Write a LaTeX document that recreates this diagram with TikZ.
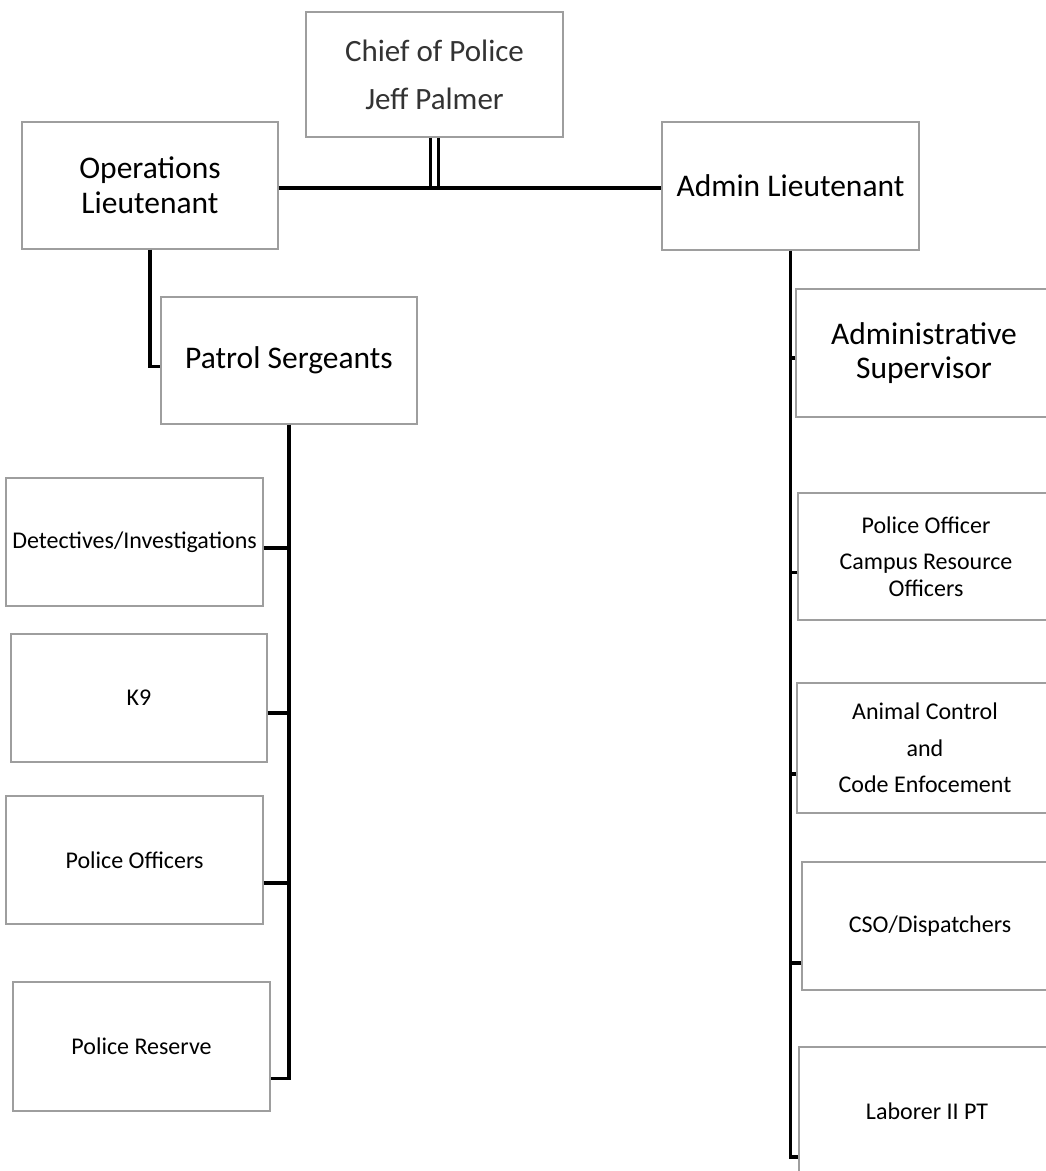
\documentclass[tikz,border=0pt]{standalone}
\usepackage{fontspec}
\setmainfont{Carlito}
\definecolor{boxgray}{RGB}{158,158,158}
\begin{document}
\begin{tikzpicture}[x=1pt,y=-1pt,
  box/.style={draw=boxgray, line width=1.3pt, minimum width=256pt, minimum height=128pt, inner sep=0pt, align=center, text=black},
  big/.style={font=\fontsize{31.5}{35}\selectfont},
  small/.style={font=\fontsize{24}{26.6}\selectfont},
  link/.style={line width=3.2pt, black, line join=miter}]
\useasboundingbox (0,0) rectangle (1046,1171);
\clip (0,0) rectangle (1046,1171);
\fill[white] (0,0) rectangle (1046,1171);

% top level
\node[box, minimum width=257pt, minimum height=125pt, font=\fontsize{31}{48}\selectfont, text=black!80] (chief) at (434.5,74.5) {Chief of Police\\Jeff Palmer};
\node[box, big, minimum height=127pt] (op) at (150,185.5) {Operations\\Lieutenant};
\node[box, big, minimum width=257pt] (admin) at (790.5,186) {Admin Lieutenant};
\node[box, big, minimum height=127pt] (ps) at (289,360.5) {Patrol Sergeants};

% left column
\node[box, small, minimum width=257pt] (det) at (134.5,542) {Detectives/Investigations};
\node[box, small] (k9) at (139,698) {K9};
\node[box, small, minimum width=257pt] (po) at (134.5,860) {Police Officers};
\node[box, small, minimum width=257pt, minimum height=129pt] (res) at (141.5,1046.5) {Police Reserve};

% right column
\node[box, font=\fontsize{31.5}{34}\selectfont] (sup) at (924,353) {Administrative\\Supervisor};
\node[box, small, minimum height=127pt] (cro) at (926,556.5) {Police Officer\\[10pt]Campus Resource\\Officers};
\node[box, font=\fontsize{24}{36.7}\selectfont, minimum height=130pt] (ani) at (925,748) {Animal Control\\and\\Code Enfocement};
\node[box, small] (cso) at (930,926) {CSO/Dispatchers};
\node[box, small] (lab) at (927,1111) {Laborer II PT};

% connectors
\draw[link, line width=2.7pt] ([xshift=-4pt]chief.south) -- ([xshift=-4pt,yshift=-2.5pt]chief.south |- op.east);
\draw[link, line width=2.7pt] ([xshift=4pt]chief.south) -- ([xshift=4pt,yshift=-2.5pt]chief.south |- op.east);
\draw[link] ([yshift=-2.5pt]op.east) -- ([yshift=-2.5pt]op.east -| admin.west);
\draw[link] (op.south) |- ([yshift=-6pt]ps.west);

\draw[link] (ps.south) |- ([yshift=-32pt]res.east);
\draw[link] ([yshift=-6pt]det.east) -- ([yshift=-6pt]det.east -| ps.south);
\draw[link] ([yshift=-15pt]k9.east) -- ([yshift=-15pt]k9.east -| ps.south);
\draw[link] ([yshift=-23pt]po.east) -- ([yshift=-23pt]po.east -| ps.south);

\draw[link] (admin.south) |- ([yshift=-46pt]lab.west);
\draw[link] ([yshift=-5pt]sup.west) -- ([yshift=-5pt]sup.west -| admin.south);
\draw[link] ([yshift=-16pt]cro.west) -- ([yshift=-16pt]cro.west -| admin.south);
\draw[link] ([yshift=-26pt]ani.west) -- ([yshift=-26pt]ani.west -| admin.south);
\draw[link] ([yshift=-37pt]cso.west) -- ([yshift=-37pt]cso.west -| admin.south);
\end{tikzpicture}
\end{document}
